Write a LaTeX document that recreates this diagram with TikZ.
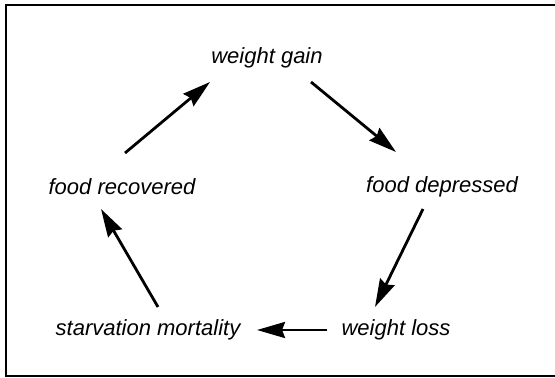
\documentclass[tikz,border=0pt]{standalone}
\usepackage{fontspec}
\setmainfont{Liberation Sans}
\usetikzlibrary{arrows.meta,positioning,calc}

\begin{document}
\begin{tikzpicture}[
    x=0.5pt, y=-0.5pt,
    state/.style={inner sep=0pt, font=\fontsize{11}{13}\selectfont\itshape, text=black},
    arr/.style={-{Stealth[length=14pt, width=8pt, inset=1.5pt]}, line width=1.4pt, black},
    frame/.style={line width=1pt, black},
]
\useasboundingbox (0,0) rectangle (555,378);
\draw[frame] (555,5) -- (6,5) -- (6,376) -- (555,376);

\node[state] (wg) at (267,58) {weight gain};
\node[state] (fr) at (122,187) {food recovered};
\node[state] (fd) at (442,187) {food depressed};
\node[state] (sm) at (148,330) {starvation mortality};
\node[state] (wl) at (396,330) {weight loss};

\draw[arr] ($(fr)+(3,-34)$) -- ($(wg)+(-57,24)$);
\draw[arr] ($(wg)+(44,24)$) -- ($(fd)+(-46,-35)$);
\draw[arr] ($(fd)+(-19,22)$) -- ($(wl)+(-21,-23)$);
\draw[arr] ($(wl)+(-69,0)$) -- ($(sm)+(109,0)$);
\draw[arr] ($(sm)+(10,-23)$) -- ($(fr)+(-21,22)$);
\end{tikzpicture}
\end{document}
